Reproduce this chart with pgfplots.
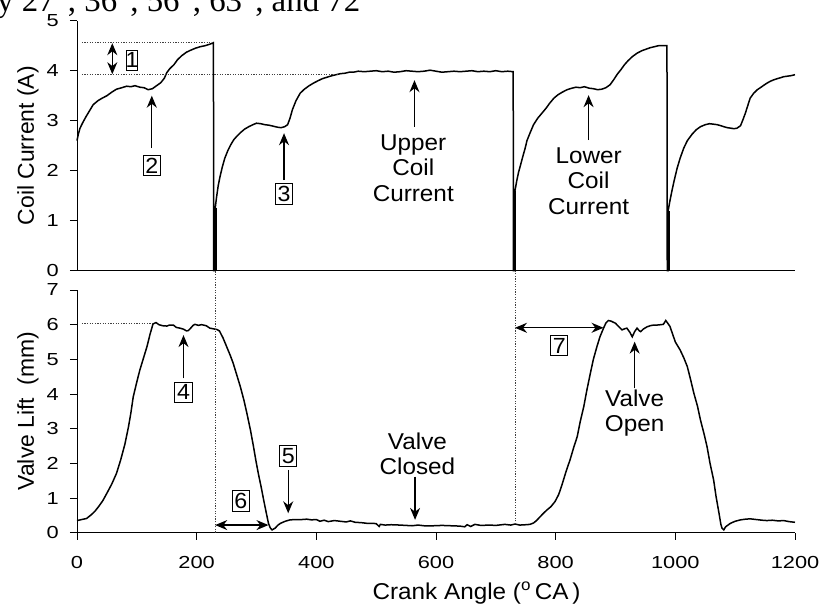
\documentclass[border=0pt]{standalone}
\usepackage{fontspec}
\setmainfont{Liberation Sans}[FakeStretch=1.06]
\newfontfamily\rotfont{Liberation Sans}
\newfontfamily\tickfont{Liberation Sans}[FakeStretch=1.25]
\newfontfamily\seriffont{Liberation Serif}
\usepackage{pgfplots}
\pgfplotsset{compat=1.18}
\usetikzlibrary{arrows.meta}
\newcommand\lab{\fontsize{23}{25.5}\selectfont}
\newcommand\rlab{\rotfont\fontsize{23}{25.5}\selectfont}
\newcommand\tck{\tickfont\fontsize{17.5}{20}\selectfont}
\newcommand\boxf{\fontsize{22}{24}\selectfont}
\tikzset{
 arr/.style={line width=1.2bp, -{Stealth[length=12bp,width=10bp]}},
 dblarrow/.style={line width=1.2bp, {Stealth[length=12bp,width=10bp]}-{Stealth[length=12bp,width=10bp]}},
 dotline/.style={line width=0.9bp, black!75, dash pattern=on 1.2bp off 1.4bp},
 numbox/.style={draw, line width=0.9bp, inner xsep=2.2bp, inner ysep=2.6bp, font=\boxf},
 ann/.style={align=center, font=\lab},
}
\pgfplotsset{
 myaxis/.style={
  scale only axis, width=718bp, xmin=0, xmax=1200,
  axis lines=left, axis line style={-, line width=1bp, black},
  tick align=outside, major tick length=7bp,
  tick style={line width=1bp, black},
  ticklabel style={font=\tck},
  /pgf/number format/assume math mode=true,
  /pgf/number format/1000 sep={},
  yticklabel style={anchor=east, inner sep=0pt, xshift=-11bp},
  xticklabel style={anchor=north, inner sep=0pt, yshift=-16bp},
  clip=false,
 },
}
\begin{document}
\begin{tikzpicture}
\useasboundingbox (0,0) rectangle (821bp,606bp);
\node[anchor=base west, font=\seriffont\fontsize{33}{36}\selectfont, inner sep=0pt] at (-3bp,594.5bp) {y 27°, 36°, 56°, 63°, and 72°};
% ---------------- top axis: coil current ----------------
\begin{axis}[myaxis, at={(77bp,335.3bp)}, anchor=south west, height=250bp,
  ymin=0, ymax=5, ytick={0,1,2,3,4,5}, xtick=\empty]
\addplot[black, line width=1.5bp] coordinates {
(0,2.60)(2,2.72)(5,2.85)(10,2.97)(15,3.08)(20,3.18)(27,3.32)(35,3.40)(42,3.45)(50,3.50)
(58,3.57)(66,3.63)(75,3.66)(83,3.69)(90,3.68)(97,3.70)(105,3.67)(112,3.66)(119,3.62)(126,3.64)
(133,3.70)(140,3.76)(146,3.85)(150,3.96)(155,4.04)(162,4.12)(168,4.22)(175,4.30)(183,4.37)(190,4.41)
(198,4.45)(206,4.48)(214,4.50)(222,4.53)(228,4.56)(228.5,0)(231,0)(231,1.25)
(233,1.45)(236,1.70)(239,1.88)(243,2.08)(247,2.25)(252,2.40)(257,2.52)(262,2.62)(268,2.70)(274,2.77)
(280,2.83)(287,2.88)(294,2.92)(300,2.95)(307,2.94)(314,2.92)(321,2.91)(328,2.89)(335,2.87)(341,2.86)
(347,2.88)(352,2.92)(356,3.05)(360,3.22)(366,3.40)(373,3.55)(380,3.63)(388,3.70)(395,3.75)(403,3.80)
(410,3.84)(418,3.87)(426,3.90)(433,3.92)(440,3.94)(448,3.95)(455,3.97)(462,3.97)(470,3.99)(480,3.98)
(490,3.99)(500,4.00)(510,3.98)(520,3.99)(530,3.97)(540,3.98)(550,4.00)(560,3.99)(570,3.98)(580,3.99)
(590,4.01)(600,3.99)(610,3.97)(620,3.98)(630,3.99)(640,3.98)(650,3.99)(660,4.00)(670,3.98)(680,3.99)
(690,3.98)(700,4.00)(710,3.98)(720,3.99)(729,3.98)(729.5,0)(732,0)(732,1.60)
(735,1.80)(738,1.97)(741,2.10)(745,2.28)(749,2.45)(752,2.60)(757,2.75)(763,2.92)(770,3.05)(777,3.15)
(784,3.25)(790,3.35)(797,3.45)(804,3.52)(811,3.57)(819,3.62)(827,3.65)(834,3.67)(841,3.66)(848,3.68)
(856,3.65)(863,3.64)(870,3.62)(877,3.63)(884,3.66)(891,3.72)(897,3.82)(903,3.93)(909,4.02)(915,4.12)
(921,4.20)(928,4.28)(936,4.35)(944,4.40)(951,4.43)(958,4.46)(965,4.48)(972,4.50)(979,4.50)(986,4.50)
(986.5,0)(988,0)(988,1.20)
(991,1.40)(994,1.58)(998,1.80)(1003,2.05)(1008,2.25)(1014,2.45)(1020,2.60)(1028,2.73)(1035,2.82)(1042,2.88)
(1050,2.92)(1057,2.94)(1064,2.93)(1070,2.92)(1076,2.90)(1081,2.88)(1087,2.86)(1093,2.85)(1098,2.84)(1103,2.85)
(1109,2.90)(1113,3.02)(1117,3.15)(1121,3.30)(1125,3.45)(1131,3.55)(1137,3.62)(1142,3.66)(1148,3.71)(1153,3.75)
(1159,3.79)(1165,3.82)(1170,3.84)(1176,3.86)(1181,3.88)(1187,3.89)(1193,3.90)(1200,3.92)
};
\addplot[black, line width=2.8bp, forget plot] coordinates {(231,0)(231,1.25)};
\addplot[black, line width=2.8bp, forget plot] coordinates {(732,0)(732,1.60)};
\addplot[black, line width=2.8bp, forget plot] coordinates {(988,0)(988,1.20)};
\draw[dotline] (axis cs:8,4.56) -- (axis cs:228,4.56);
\draw[dotline] (axis cs:8,3.92) -- (axis cs:440,3.92);
\draw[dblarrow] (axis cs:59,4.55) -- (axis cs:59,3.93);
\node[numbox] at (axis cs:92,4.21) {\makebox[7bp]{1}};
\draw[arr] (axis cs:125,2.45) -- (axis cs:125,3.50);
\node[numbox] at (axis cs:125,2.10) {2};
\draw[arr] (axis cs:346,1.81) -- (axis cs:346,2.75);
\node[numbox] at (axis cs:346,1.53) {3};
\draw[arr] (axis cs:564,2.88) -- (axis cs:564,3.81);
\node[ann] at (axis cs:562,2.05) {Upper\\Coil\\Current};
\draw[arr] (axis cs:855,2.61) -- (axis cs:855,3.51);
\node[ann] at (axis cs:855,1.79) {Lower\\Coil\\Current};
\end{axis}
% ---------------- bottom axis: valve lift ----------------
\begin{axis}[myaxis, at={(77bp,73.3bp)}, anchor=south west, height=242.7bp,
  ymin=0, ymax=7, ytick={0,1,2,3,4,5,6,7}, xtick={0,200,400,600,800,1000,1200}]
\addplot[black, line width=1.5bp] coordinates {
(0,0.35)(8,0.38)(16,0.41)(24,0.52)(30,0.62)(36,0.75)(43,0.92)(50,1.14)(58,1.40)(66,1.71)
(73,2.10)(80,2.55)(86,3.05)(90,3.45)(94,3.92)(100,4.35)(105,4.69)(111,5.03)(117,5.37)(122,5.72)
(127,6.02)(132,6.06)(137,6.00)(143,5.97)(150,5.96)(155,5.99)(161,5.99)(166,5.92)(172,5.90)(178,5.87)
(183,5.82)(186,5.83)(190,5.90)(194,5.98)(197,6.01)(203,5.98)(208,6.00)(211,5.99)(216,5.97)(222,5.90)
(228,5.88)(234,5.86)(238,5.82)(244,5.62)(250,5.37)(256,5.12)(261,4.89)(267,4.55)(273,4.21)(279,3.82)
(284,3.44)(290,2.95)(295,2.48)(299,2.08)(303,1.71)(308,1.30)(312,0.94)(316,0.60)(320,0.27)(323,0.14)
(326,0.08)(331,0.13)(336,0.22)(340,0.27)(348,0.33)(356,0.37)(366,0.38)(376,0.38)(384,0.39)(392,0.37)
(400,0.38)(406,0.33)(413,0.36)(420,0.32)(430,0.35)(440,0.33)(450,0.31)(457,0.34)(465,0.30)(475,0.29)
(485,0.27)(495,0.27)(500,0.26)(505,0.18)(507,0.24)(515,0.22)(525,0.23)(540,0.22)(550,0.21)(560,0.20)
(570,0.22)(580,0.20)(596,0.20)(610,0.21)(625,0.20)(640,0.19)(648,0.17)(652,0.23)(658,0.18)(665,0.24)
(675,0.21)(690,0.22)(700,0.21)(715,0.24)(725,0.22)(732,0.25)(740,0.22)(750,0.23)(757,0.24)(763,0.28)
(768,0.35)(774,0.46)(779,0.55)(785,0.65)(792,0.75)(799,0.90)(805,1.10)(810,1.35)(813,1.52)(818,1.80)
(824,2.10)(830,2.45)(836,2.77)(841,3.20)(847,3.64)(852,4.10)(858,4.60)(863,5.00)(869,5.37)(874,5.65)
(880,5.90)(884,6.05)(888,6.12)(893,6.10)(900,6.04)(905,5.95)(911,5.85)(915,5.88)(919,5.90)(924,5.78)
(928,5.65)(932,5.80)(936,5.90)(940,5.82)(942,5.80)(947,5.88)(953,5.94)(958,5.97)(964,5.99)(970,5.99)
(976,6.00)(980,6.01)(984,6.12)(987,6.05)(991,5.95)(995,5.75)(1000,5.50)(1008,5.27)(1014,5.05)(1020,4.79)
(1025,4.45)(1031,4.02)(1037,3.65)(1042,3.25)(1048,2.85)(1053,2.48)(1058,2.00)(1064,1.52)(1068,1.05)(1073,0.56)
(1076,0.25)(1078,0.13)(1081,0.08)(1084,0.17)(1088,0.22)(1092,0.27)(1100,0.33)(1109,0.37)(1117,0.39)(1125,0.40)
(1135,0.38)(1145,0.36)(1153,0.35)(1162,0.36)(1172,0.34)(1181,0.35)(1190,0.32)(1200,0.30)
};
\draw[dotline] (axis cs:8,6.04) -- (axis cs:130,6.04);
\draw[dotline] (axis cs:231,0) -- (axis cs:231,7.557);
\draw[dotline] (axis cs:732,0.25) -- (axis cs:732,7.557);
\draw[dblarrow] (axis cs:231,0.22) -- (axis cs:320,0.22);
\node[numbox] at (axis cs:274,0.92) {6};
\draw[arr] (axis cs:353,1.81) -- (axis cs:353,0.56);
\node[numbox] at (axis cs:353,2.22) {5};
\draw[arr] (axis cs:178,4.45) -- (axis cs:178,5.70);
\node[numbox] at (axis cs:178,4.05) {4};
\draw[arr] (axis cs:565,1.62) -- (axis cs:565,0.37);
\node[ann] at (axis cs:569,2.27) {Valve\\Closed};
\draw[dblarrow] (axis cs:732,5.91) -- (axis cs:880,5.91);
\node[numbox] at (axis cs:806,5.40) {7};
\draw[arr] (axis cs:932,4.16) -- (axis cs:932,5.51);
\node[ann] at (axis cs:932,3.45) {Valve\\Open};
\end{axis}
\node[rotate=90, font=\rlab] at (28bp,460.3bp) {Coil Current (A)};
\node[rotate=90, font=\rlab] at (28bp,195bp) {Valve Lift\ \ (mm)};
\node[font=\lab] at (476.5bp,13bp) {Crank Angle (\textsuperscript{o}\,CA\,)};
\end{tikzpicture}
\end{document}
